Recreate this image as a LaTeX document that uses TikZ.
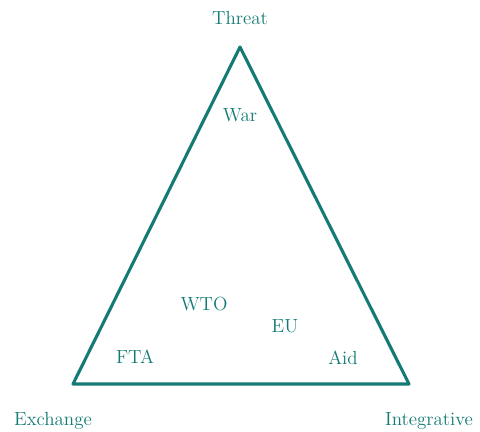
\documentclass[tikz,border=0pt]{standalone}
\usepackage{fontspec}
\definecolor{tealline}{RGB}{19,122,116}
\begin{document}
\begin{tikzpicture}[x=0.025cm,y=0.025cm,
  lab/.style={text=tealline,font=\fontsize{13.5}{16}\selectfont\addfontfeature{LetterSpace=20}}]
\useasboundingbox (0,0) rectangle (480,432);
\coordinate (top) at (240,385);
\coordinate (left) at (73,48);
\coordinate (right) at (409,48);
\draw[tealline,line width=2.2pt,line join=round] (top) -- (left) -- (right) -- cycle;
\node[lab] (threat) at (240,414) {Threat};
\node[lab] (exchange) at (53,11) {Exchange};
\node[lab] (integrative) at (429,11) {Integrative};
\node[lab] (war) at (240,317) {War};
\node[lab] (wto) at (204,128) {WTO};
\node[lab] (eu) at (285,106) {EU};
\node[lab] (fta) at (135,75) {FTA};
\node[lab] (aid) at (343,74) {Aid};
\end{tikzpicture}
\end{document}
